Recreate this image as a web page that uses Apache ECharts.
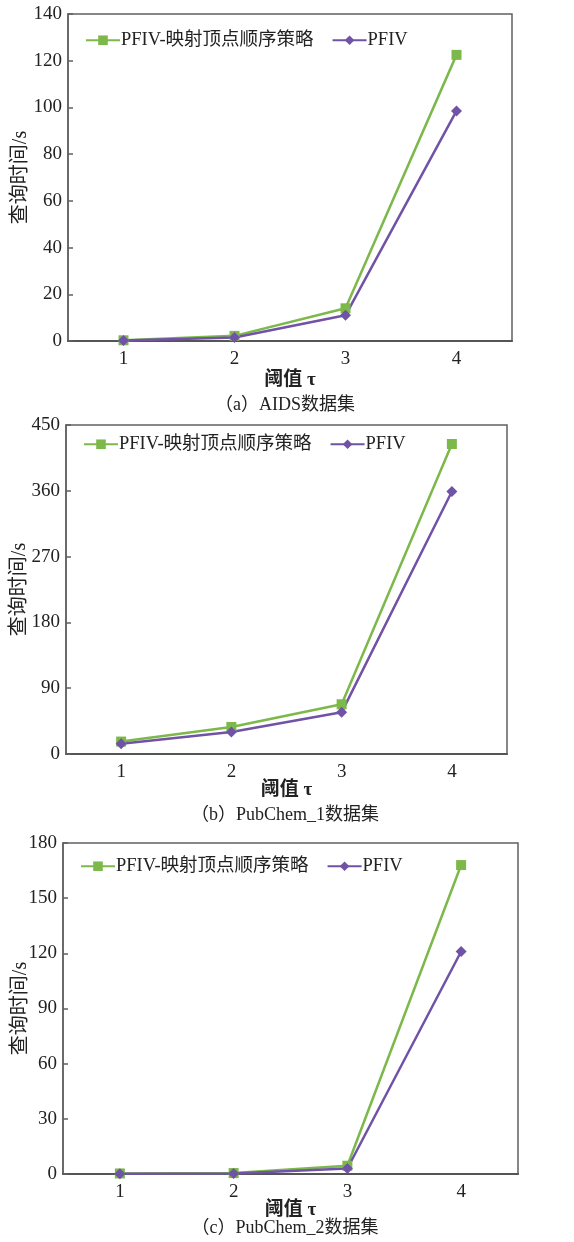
<!DOCTYPE html>
<html><head><meta charset="utf-8">
<script src="https://cdn.jsdelivr.net/npm/echarts@6/dist/echarts.min.js"></script>
<style>html,body{margin:0;padding:0;background:#fff}#c{width:574px;height:1242px}</style>
</head><body><div id="c"></div>
<script>
const categories = ['1', '2', '3', '4'];
const seriesNames = ['PFIV-映射顶点顺序策略', 'PFIV'];
const aidsStrategy = [0.3, 2.2, 14, 122.5];
const aidsPFIV = [0.2, 1.5, 11, 98.5];
const pub1Strategy = [17, 37, 68, 424];
const pub1PFIV = [14, 30, 57, 359];
const pub2Strategy = [0.3, 0.5, 4.5, 168];
const pub2PFIV = [0.2, 0.3, 3, 121];
const yMax = [140, 450, 180];
const yStep = [20, 90, 30];
const captions = ['（a）AIDS数据集', '（b）PubChem_1数据集', '（c）PubChem_2数据集'];
const xName = '阈值 τ';
const yName = '查询时间/s';

const GREEN = '#7cb84a', PURPLE = '#7052a6', FRAME = '#606060';
const FONT = "'Liberation Serif','Noto Sans CJK SC',serif";
const grids = [
  {left: 68, top: 14, width: 444, height: 327},
  {left: 66, top: 425, width: 441, height: 329},
  {left: 63, top: 843, width: 455, height: 331}
];
const legendPos = [{left: 80, top: 26}, {left: 78, top: 430}, {left: 75, top: 852}];
const xNameGap = [30, 27, 27];
const yNameGap = [37, 36, 32];
const captionY = [405, 815, 1228];
const data = [[aidsStrategy, aidsPFIV], [pub1Strategy, pub1PFIV], [pub2Strategy, pub2PFIV]];

const option = {
  backgroundColor: '#fff',
  animation: false,
  grid: grids.map(g => Object.assign({show: true, borderColor: FRAME, borderWidth: 1.5, backgroundColor: 'transparent', containLabel: false, outerBoundsMode: 'none'}, g)),
  legend: grids.map((g, i) => ({
    left: legendPos[i].left, top: legendPos[i].top,
    itemWidth: 34, itemHeight: 12, itemGap: 18,
    textStyle: {fontFamily: FONT, fontSize: 18.5, color: '#222', padding: [0, 0, 0, -4]},
    data: seriesNames.map(n => ({name: n})),
    seriesIndex: [2 * i, 2 * i + 1]
  })),
  xAxis: grids.map((g, i) => ({
    type: 'category', gridIndex: i, data: categories,
    name: xName, nameLocation: 'middle', nameGap: xNameGap[i], nameMoveOverlap: false,
    nameTextStyle: {fontFamily: FONT, fontSize: 19, color: '#222', fontWeight: 'bold'},
    axisLine: {lineStyle: {color: '#555', width: 2}},
    axisTick: {inside: true, length: 5, lineStyle: {color: '#555', width: 1.5}},
    axisLabel: {fontFamily: FONT, fontSize: 19, color: '#222', margin: 9},
    splitLine: {show: false}
  })),
  yAxis: grids.map((g, i) => ({
    type: 'value', gridIndex: i, min: 0, max: yMax[i], interval: yStep[i],
    name: yName, nameLocation: 'middle', nameGap: yNameGap[i], nameRotate: 90, nameMoveOverlap: false,
    nameTextStyle: {fontFamily: FONT, fontSize: 20, color: '#222'},
    axisLine: {show: true, lineStyle: {color: FRAME, width: 1.5}},
    axisTick: {show: true, inside: true, length: 5, lineStyle: {color: FRAME, width: 1.5}},
    axisLabel: {fontFamily: FONT, fontSize: 19, color: '#222', margin: 6},
    splitLine: {show: false}
  })),
  series: [],
  graphic: captionY.map((y, i) => ({
    type: 'text', x: 285, y: y,
    style: {text: captions[i], fontFamily: FONT, fontSize: 18, fill: '#222', align: 'center', verticalAlign: 'middle'}
  }))
};
data.forEach((pair, i) => {
  option.series.push({
    name: seriesNames[0], type: 'line', xAxisIndex: i, yAxisIndex: i, data: pair[0],
    symbol: 'rect', symbolSize: 10, lineStyle: {color: GREEN, width: 2.5}, itemStyle: {color: GREEN}
  });
  option.series.push({
    name: seriesNames[1], type: 'line', xAxisIndex: i, yAxisIndex: i, data: pair[1],
    symbol: 'diamond', symbolSize: 11, lineStyle: {color: PURPLE, width: 2.5}, itemStyle: {color: PURPLE}
  });
});
const chart = echarts.init(document.getElementById('c'), null, {renderer: 'canvas'});
chart.setOption(option);
</script></body></html>
